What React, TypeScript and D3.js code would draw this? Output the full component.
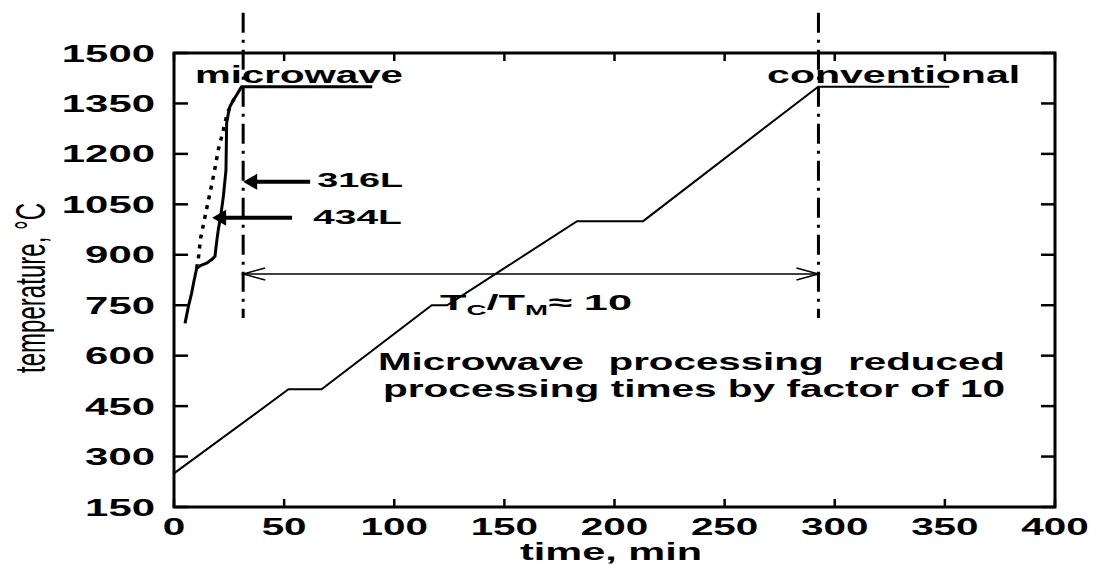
import React from "react";
import * as d3 from "d3";

// axis ticks
const xTicks = [0, 50, 100, 150, 200, 250, 300, 350, 400];
const yTicks = [150, 300, 450, 600, 750, 900, 1050, 1200, 1350, 1500];

// conventional heating schedule (time min, temperature C)
const conventionalTime = [0, 52, 67, 117, 124, 183, 213, 292.5, 352];
const conventionalTemp = [250, 500, 500, 750, 750, 1000, 1000, 1400, 1400];

// microwave, 316L (solid) incl. the hold at 1400
const mw316Time = [5, 6.5, 8, 9, 10.3, 12, 14.8, 17, 18.6, 19.2, 20.1, 21.3, 22.4, 23.6, 23.9, 24.6, 25.4, 27, 28.5, 30.7, 90];
const mw316Temp = [696, 745, 786, 820, 860, 868, 875, 885, 895, 930, 974, 1020, 1073, 1152, 1291, 1318, 1341, 1360, 1376, 1400, 1400];

// microwave, 434L (dotted)
const mw434Time = [10.3, 11, 12.1, 14.1, 16.3, 18.2, 20.1, 22.4, 24.2, 26.2, 28.5];
const mw434Temp = [860, 885, 950, 1014, 1083, 1143, 1212, 1271, 1321, 1351, 1376];

// end-of-cycle markers
const markerTimes = [31.4, 292.6];

const FONT = "'Liberation Sans', Arial, Helvetica, sans-serif";

const W = 1097;
const H = 565;

export default function App() {
  const x = d3.scaleLinear().domain([0, 400]).range([174, 1055]);
  const y = d3.scaleLinear().domain([150, 1500]).range([507, 53]);

  const line = d3
    .line<[number, number]>()
    .x((d) => x(d[0]))
    .y((d) => y(d[1]));

  const conv = conventionalTime.map((t, i) => [t, conventionalTemp[i]] as [number, number]);
  const s316 = mw316Time.map((t, i) => [t, mw316Temp[i]] as [number, number]);
  const s434 = mw434Time.map((t, i) => [t, mw434Temp[i]] as [number, number]);

  const x0 = x.range()[0];
  const x1 = x.range()[1];
  const y0 = y.range()[0];
  const y1 = y.range()[1];

  // filled arrow pointing left
  const fatArrow = (tipT: number, tailT: number, temp: number) => {
    const tx = x(tipT);
    const ty = y(temp);
    const hx = tx + 14;
    return (
      <g>
        <line x1={hx - 2} y1={ty} x2={x(tailT)} y2={ty} stroke="#000" strokeWidth={4} />
        <path d={`M${tx},${ty} L${hx},${ty - 8} L${hx},${ty + 8} Z`} fill="#000" />
      </g>
    );
  };

  const arrowY = y(843);
  const ax1 = x(markerTimes[0]);
  const ax2 = x(markerTimes[1]);

  return (
    <svg
      width={W}
      height={H}
      style={{ position: "absolute", left: 0, top: 0, background: "#fff" }}
      fontFamily={FONT}
    >
      <rect width={W} height={H} fill="#fff" />

      {/* ticks */}
      {yTicks.map((v) => (
        <g key={"yt" + v}>
          <line x1={x0} x2={x0 + 14} y1={y(v)} y2={y(v)} stroke="#000" strokeWidth={2.5} />
          <line x1={x1} x2={x1 - 14} y1={y(v)} y2={y(v)} stroke="#000" strokeWidth={2.5} />
          <text
            x={155}
            y={y(v)}
            dy="0.37em"
            textAnchor="end"
            fontSize={23}
            fontWeight="bold"
            textLength={String(v).length * 23.3}
            lengthAdjust="spacingAndGlyphs"
          >
            {v}
          </text>
        </g>
      ))}
      {xTicks.map((v) => (
        <g key={"xt" + v}>
          <line x1={x(v)} x2={x(v)} y1={y0} y2={y0 - 8} stroke="#000" strokeWidth={2.5} />
          <line x1={x(v)} x2={x(v)} y1={y1} y2={y1 + 8} stroke="#000" strokeWidth={2.5} />
          <text
            x={x(v)}
            y={y0 + 28}
            textAnchor="middle"
            fontSize={23}
            fontWeight="bold"
            textLength={String(v).length * 22.5}
            lengthAdjust="spacingAndGlyphs"
          >
            {v}
          </text>
        </g>
      ))}

      {/* frame */}
      <rect x={x0} y={y1} width={x1 - x0} height={y0 - y1} fill="none" stroke="#000" strokeWidth={3} />

      {/* axis titles */}
      <text
        x={611}
        y={560}
        textAnchor="middle"
        fontSize={23}
        fontWeight="bold"
        textLength={182}
        lengthAdjust="spacingAndGlyphs"
      >
        time, min
      </text>
      <text
        transform="translate(45,288) scale(1.8,1) rotate(-90)"
        textAnchor="middle"
        fontSize={24}
        textLength={170}
        lengthAdjust="spacingAndGlyphs"
      >
        temperature, °C
      </text>

      {/* dash-dot end markers */}
      {markerTimes.map((t) => (
        <line
          key={"m" + t}
          x1={x(t)}
          x2={x(t)}
          y1={y(1620)}
          y2={y(712)}
          stroke="#000"
          strokeWidth={3}
          strokeDasharray="20,7,3,7"
        />
      ))}

      {/* curves */}
      <path d={line(conv) || ""} fill="none" stroke="#000" strokeWidth={2} />
      <path d={line(s316) || ""} fill="none" stroke="#000" strokeWidth={3} strokeLinejoin="round" />
      <path d={line(s434) || ""} fill="none" stroke="#000" strokeWidth={3.5} strokeDasharray="4,6" />

      {/* double arrow */}
      <g stroke="#000" strokeWidth={1.5} fill="none">
        <line x1={ax1} x2={ax2} y1={arrowY} y2={arrowY} />
        <path d={`M${ax1 + 22},${arrowY - 6} L${ax1},${arrowY} L${ax1 + 22},${arrowY + 6}`} />
        <path d={`M${ax2 - 22},${arrowY - 6} L${ax2},${arrowY} L${ax2 - 22},${arrowY + 6}`} />
      </g>

      {/* alloy arrows */}
      {fatArrow(31.4, 61.8, 1117)}
      {fatArrow(17.3, 53.6, 1010)}

      {/* annotations */}
      <text x={x(9.5)} y={y(1411)} fontSize={24} fontWeight="bold" textLength={208} lengthAdjust="spacingAndGlyphs">
        microwave
      </text>
      <text x={x(269.3)} y={y(1411)} fontSize={24} fontWeight="bold" textLength={253} lengthAdjust="spacingAndGlyphs">
        conventional
      </text>
      <text x={x(65)} y={y(1102)} fontSize={20} fontWeight="bold" textLength={86} lengthAdjust="spacingAndGlyphs">
        316L
      </text>
      <text x={x(63.1)} y={y(992)} fontSize={20} fontWeight="bold" textLength={89} lengthAdjust="spacingAndGlyphs">
        434L
      </text>
      <text x={x(120.8)} y={y(736)} fontSize={22} fontWeight="bold" textLength={192} lengthAdjust="spacingAndGlyphs">
        T<tspan fontSize={14} dy={5}>C</tspan>
        <tspan dy={-5}>/T</tspan>
        <tspan fontSize={14} dy={5}>M</tspan>
        <tspan dy={-5}>≈ 10</tspan>
      </text>
      <text x={x(92.6)} y={y(557)} fontSize={24} fontWeight="bold" textLength={627} lengthAdjust="spacingAndGlyphs" wordSpacing={8}>
        Microwave processing reduced
      </text>
      <text x={x(94.9)} y={y(477)} fontSize={24} fontWeight="bold" textLength={622} lengthAdjust="spacingAndGlyphs">
        processing times by factor of 10
      </text>
    </svg>
  );
}
